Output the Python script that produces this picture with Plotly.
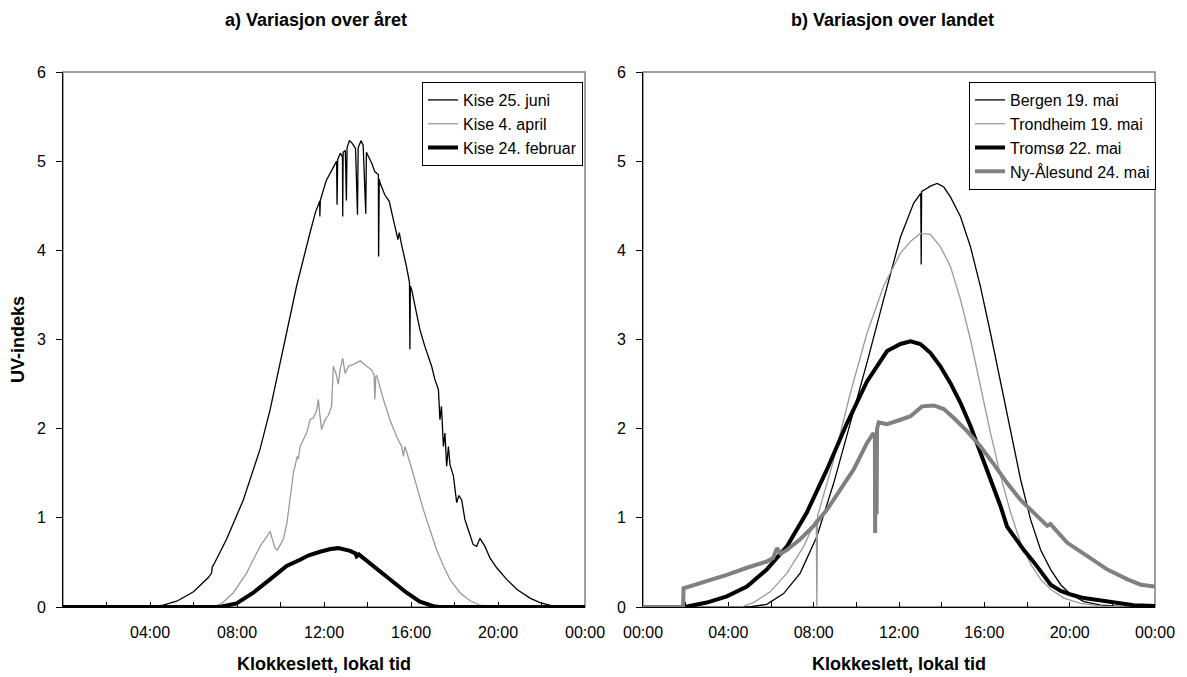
import plotly.graph_objects as go

# ---------------- data (hours after midnight, UV index) ----------------
juni_x = [0, 4.0, 4.6, 5.23, 6.0, 6.68, 6.83, 6.86, 6.94, 7.52, 8.29, 9.06, 9.52, 10.13, 10.74, 11.36, 11.6,
          11.80, 11.81, 11.83, 12.1, 12.45, 12.58, 12.60, 12.63, 12.75, 12.85, 12.86, 12.88, 12.98, 13.03, 13.06,
          13.17, 13.3, 13.45, 13.54, 13.57, 13.7, 13.8, 13.92, 13.95, 14.01, 14.19, 14.34, 14.5, 14.51, 14.54,
          14.57, 14.8, 15.0, 15.1, 15.27, 15.4, 15.46, 15.56, 15.79, 15.93, 15.95, 15.97, 16.03, 16.26, 16.41,
          16.64, 16.95, 17.1, 17.26, 17.33, 17.4, 17.49, 17.56, 17.64, 17.72, 17.79, 17.95, 18.1, 18.2, 18.33,
          18.48, 18.63, 18.86, 19.02, 19.17, 19.4, 19.63, 19.94, 20.4, 20.86, 21.47, 21.93, 22.54, 23.13, 24]
juni_y = [0, 0, 0.02, 0.065, 0.17, 0.33, 0.38, 0.45, 0.48, 0.76, 1.2, 1.77, 2.21, 2.89, 3.6, 4.2, 4.42,
          4.55, 4.38, 4.56, 4.78, 4.95, 5.0, 4.51, 5.02, 5.09, 5.05, 4.38, 5.1, 5.12, 4.56, 5.15,
          5.23, 5.2, 5.14, 4.4, 5.15, 5.23, 5.18, 4.41, 5.1, 5.07, 4.98, 4.88, 4.85, 3.93, 4.8,
          4.76, 4.62, 4.55, 4.44, 4.27, 4.12, 4.2, 4.07, 3.82, 3.64, 2.89, 3.6, 3.56, 3.3, 3.11,
          2.92, 2.7, 2.55, 2.44, 2.1, 2.25, 1.8, 1.95, 1.58, 1.8, 1.6, 1.47, 1.17, 1.25, 1.2,
          0.98, 0.87, 0.7, 0.68, 0.77, 0.68, 0.55, 0.44, 0.31, 0.2, 0.1, 0.05, 0.01, 0, 0]

april_x = [0, 6.9, 7.3, 7.83, 8.44, 9.06, 9.4, 9.52, 9.6, 9.75, 9.86, 10.13, 10.3, 10.44, 10.59, 10.77, 10.82,
           10.9, 11.2, 11.36, 11.5, 11.66, 11.74, 11.79, 11.89, 12.05, 12.2, 12.35, 12.43, 12.55, 12.66, 12.74,
           12.86, 12.97, 13.12, 13.35, 13.66, 13.96, 14.19, 14.3, 14.34, 14.38, 14.42, 14.73, 15.03, 15.34,
           15.57, 15.65, 15.72, 15.95, 16.26, 16.57, 16.87, 17.18, 17.49, 17.79, 18.25, 18.71, 19.17, 19.79, 24]
april_y = [0, 0, 0.04, 0.16, 0.38, 0.68, 0.8, 0.85, 0.78, 0.66, 0.64, 0.76, 0.95, 1.2, 1.5, 1.69, 1.66,
           1.8, 1.95, 2.1, 2.12, 2.2, 2.33, 2.2, 1.99, 2.1, 2.15, 2.25, 2.7, 2.62, 2.5, 2.66,
           2.79, 2.62, 2.7, 2.72, 2.76, 2.7, 2.66, 2.6, 2.33, 2.58, 2.6, 2.33, 2.1, 1.91,
           1.8, 1.69, 1.8, 1.62, 1.35, 1.09, 0.87, 0.64, 0.46, 0.31, 0.16, 0.07, 0.02, 0, 0]

feb_x = [0, 7.2, 7.98, 8.75, 9.52, 10.28, 10.9, 11.3, 11.82, 12.3, 12.66, 13.2, 13.45, 13.5, 13.6, 13.96,
         14.57, 15.19, 15.8, 16.41, 17.03, 17.3, 24]
feb_y = [0, 0, 0.04, 0.16, 0.31, 0.46, 0.53, 0.58, 0.62, 0.65, 0.66, 0.63, 0.6, 0.57, 0.59, 0.52,
         0.4, 0.27, 0.16, 0.06, 0.01, 0, 0]

bergen_x = [0, 5.0, 5.8, 6.59, 7.37, 8.15, 8.94, 9.72, 10.5, 11.28, 12.07, 12.69, 13.02, 13.04, 13.06, 13.2,
            13.47, 13.79, 14.1, 14.41, 14.88, 15.35, 15.82, 16.29, 16.76, 17.23, 17.7, 18.17, 18.64, 19.11,
            19.58, 20.05, 20.67, 21.46, 22.7, 24]
bergen_y = [0, 0, 0.03, 0.15, 0.38, 0.79, 1.39, 2.06, 2.74, 3.45, 4.15, 4.53, 4.64, 3.84, 4.66, 4.68,
            4.72, 4.75, 4.71, 4.6, 4.38, 4.04, 3.59, 3.07, 2.51, 1.95, 1.43, 0.98, 0.64, 0.42,
            0.25, 0.14, 0.06, 0.02, 0, 0]

trondheim_x = [0, 4.6, 5.18, 5.96, 6.75, 7.53, 8.12, 8.15, 8.18, 8.94, 9.72, 10.5, 11.28, 12.07, 12.54, 13.0,
               13.47, 13.94, 14.41, 14.88, 15.35, 15.82, 16.29, 16.76, 17.23, 17.7, 18.17, 18.64, 19.11,
               19.73, 20.5, 21.5, 22.5, 24]
trondheim_y = [0, 0, 0.05, 0.17, 0.38, 0.68, 0.98, 0, 1.02, 1.65, 2.4, 3.07, 3.6, 3.97, 4.1, 4.19,
               4.18, 4.04, 3.82, 3.45, 3.0, 2.48, 1.95, 1.47, 1.06, 0.72, 0.48, 0.31, 0.2,
               0.1, 0.04, 0.01, 0, 0]

tromso_x = [1.95, 2.99, 3.93, 4.87, 5.8, 6.75, 7.68, 8.62, 9.56, 10.5, 11.44, 12.07, 12.54, 13.0, 13.47,
            13.94, 14.41, 14.88, 15.35, 15.82, 16.29, 16.76, 17.07, 17.39, 17.85, 18.33, 18.8, 19.11, 19.58,
            20.05, 20.67, 21.46, 22.24, 23.0, 24]
tromso_y = [0.0, 0.05, 0.12, 0.23, 0.42, 0.68, 1.06, 1.54, 2.06, 2.53, 2.87, 2.95, 2.98, 2.95, 2.85,
            2.7, 2.51, 2.29, 2.03, 1.73, 1.43, 1.13, 0.9, 0.79, 0.64, 0.5, 0.35, 0.25, 0.18,
            0.14, 0.1, 0.07, 0.04, 0.02, 0.01]

nyaa_x = [0, 1.88, 1.9, 2.99, 3.93, 4.87, 5.8, 6.1, 6.28, 6.45, 6.75, 7.37, 8.0, 8.62, 9.25, 9.87, 10.5,
          10.8, 10.87, 10.88, 10.9, 10.93, 10.95, 10.97, 11.05, 11.44, 12.07, 12.54, 13.08, 13.63, 14.1,
          14.57, 15.2, 15.82, 16.45, 17.07, 17.7, 18.33, 18.95, 19.1, 19.89, 20.83, 21.77, 22.71, 23.33, 24]
nyaa_y = [0, 0, 0.21, 0.29, 0.36, 0.44, 0.51, 0.55, 0.66, 0.6, 0.64, 0.76, 0.91, 1.09, 1.32, 1.54, 1.84,
          1.95, 1.9, 0.83, 1.9, 1.95, 1.04, 2.0, 2.07, 2.05, 2.1, 2.14, 2.25, 2.26, 2.22,
          2.12, 1.97, 1.8, 1.6, 1.39, 1.2, 1.06, 0.91, 0.93, 0.72, 0.57, 0.42, 0.31, 0.25, 0.23]

left_tick_vals = [4, 8, 12, 16, 20, 24]
left_tick_text = ["04:00", "08:00", "12:00", "16:00", "20:00", "00:00"]
right_tick_vals = [0, 4, 8, 12, 16, 20, 24]
right_tick_text = ["00:00", "04:00", "08:00", "12:00", "16:00", "20:00", "00:00"]

# ---------------- figure ----------------
FONT = "Arial, Liberation Sans, sans-serif"
LGRAY = "#9a9a9a"
DGRAY = "#808080"

fig = go.Figure()

def add(x, y, name, color, width, xa, ya, legend):
    fig.add_trace(go.Scatter(x=x, y=y, mode="lines", name=name,
                             line=dict(color=color, width=width),
                             xaxis=xa, yaxis=ya, legend=legend,
                             hoverinfo="skip"))

add(juni_x, juni_y, "Kise 25. juni", "black", 1.3, "x", "y", "legend")
add(april_x, april_y, "Kise 4. april", LGRAY, 1.3, "x", "y", "legend")
add(feb_x, feb_y, "Kise 24. februar", "black", 4, "x", "y", "legend")

add(bergen_x, bergen_y, "Bergen 19. mai", "black", 1.3, "x2", "y2", "legend2")
add(trondheim_x, trondheim_y, "Trondheim 19. mai", LGRAY, 1.3, "x2", "y2", "legend2")
add(tromso_x, tromso_y, "Tromsø 22. mai", "black", 4, "x2", "y2", "legend2")
add(nyaa_x, nyaa_y, "Ny-Ålesund 24. mai", DGRAY, 4, "x2", "y2", "legend2")

W, H = 1187, 677
xd1 = [63 / W, 585 / W]
xd2 = [643 / W, 1155 / W]
yd = [1 - 607 / H, 1 - 72 / H]

tickfont = dict(family=FONT, size=16, color="black")
titlefont = dict(family=FONT, size=18, color="black", weight="bold")

def xaxis(domain, vals, text, anchor):
    return dict(domain=domain, anchor=anchor, range=[0, 24], tickmode="array",
                tickvals=vals, ticktext=text, ticks="inside", ticklen=5, tickcolor="black",
                minor=dict(tickmode="linear", tick0=0, dtick=2, ticks="inside", ticklen=5,
                           tickcolor="black", showgrid=False),
                showline=True, linecolor="black", linewidth=1, showgrid=False, zeroline=False,
                tickfont=tickfont, layer="below traces", fixedrange=True, automargin=False,
                ticklabelstandoff=11,
                title=dict(text="Klokkeslett, lokal tid", font=titlefont, standoff=17))

def yaxis(anchor, title):
    d = dict(domain=yd, anchor=anchor, range=[0, 6], dtick=1, ticks="outside", ticklen=6,
             tickcolor="black", showline=True, linecolor="black", linewidth=1, showgrid=False,
             zeroline=False, tickfont=dict(family=FONT, size=16, color="black"),
             layer="below traces", fixedrange=True, automargin=False, ticklabelstandoff=7)
    if title:
        d["title"] = dict(text=title, font=titlefont, standoff=7)
    return d

legfont = dict(family=FONT, size=16, color="black")

fig.update_layout(
    width=W, height=H, autosize=False,
    margin=dict(l=0, r=0, t=0, b=0, autoexpand=False),
    paper_bgcolor="white", plot_bgcolor="white",
    font=dict(family=FONT, color="black"),
    xaxis=xaxis(xd1, left_tick_vals, left_tick_text, "y"),
    yaxis=yaxis("x", "UV-indeks"),
    xaxis2=xaxis(xd2, right_tick_vals, right_tick_text, "y2"),
    yaxis2=yaxis("x2", None),
    legend=dict(x=583 / W, y=1 - 82 / H, xanchor="right", yanchor="top",
                bgcolor="white", bordercolor="black", borderwidth=1,
                font=legfont, tracegroupgap=0),
    legend2=dict(x=1156 / W, y=1 - 82 / H, xanchor="right", yanchor="top",
                 bgcolor="white", bordercolor="black", borderwidth=1,
                 font=legfont, tracegroupgap=0),
    showlegend=True,
)

# gray plot-area frames (top/right borders)
for xr, yr in (("x domain", "y domain"), ("x2 domain", "y2 domain")):
    fig.add_shape(type="rect", xref=xr, yref=yr, x0=0, x1=1, y0=0, y1=1,
                  line=dict(color=DGRAY, width=1.5), layer="below")

fig.add_annotation(text="a) Variasjon over året", x=316 / W, y=1 - 20 / H, xref="paper", yref="paper",
                   xanchor="center", yanchor="middle", showarrow=False, font=titlefont)
fig.add_annotation(text="b) Variasjon over landet", x=892 / W, y=1 - 20 / H, xref="paper", yref="paper",
                   xanchor="center", yanchor="middle", showarrow=False, font=titlefont)

fig.write_html("out.html")
